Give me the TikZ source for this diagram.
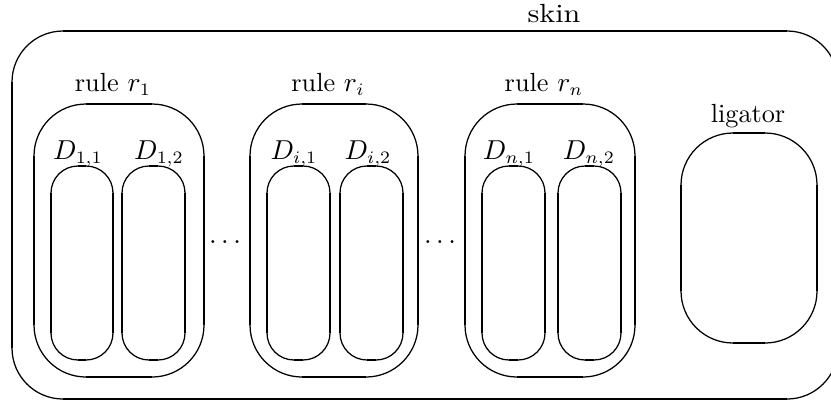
\documentclass[tikz,border=0pt]{standalone}
\usepackage{tikz}
\tikzset{
  arcline/.style={line width=0.5pt},
  segline/.style={line width=0.85pt},
  lbl/.style={inner sep=0pt, anchor=base, font=\fontsize{10.5}{12}\selectfont},
}
\newcommand\membrane[5]{%
  \draw[arcline, rounded corners={0.4pt*#5}] (#1,#2) rectangle (#3,#4);
  \draw[segline] ({#1+#5},#2) -- ({#3-#5},#2);
  \draw[segline] ({#1+#5},#4) -- ({#3-#5},#4);
  \draw[segline] (#1,{#2+#5}) -- (#1,{#4-#5});
  \draw[segline] (#3,{#2+#5}) -- (#3,{#4-#5});
}
\begin{document}
\begin{tikzpicture}[x=0.4pt,y=-0.4pt]
  \clip (0,0) rectangle (831,402);
  % skin
  \membrane{12}{31}{838}{399}{51}
  % rule r1
  \membrane{34}{104}{204}{377}{52}
  \membrane{51}{166}{113}{360}{27}
  \membrane{122}{166}{185}{360}{27}
  % rule ri
  \membrane{250}{104}{418}{377}{52}
  \membrane{267}{166}{330}{360}{27}
  \membrane{340}{166}{403}{360}{27}
  % rule rn
  \membrane{465}{104}{635}{377}{52}
  \membrane{482}{166}{545}{360}{27}
  \membrane{558}{166}{621}{360}{27}
  % ligator
  \membrane{681}{133}{817}{343}{52}
  % labels
  \node[lbl] (skin) at (554,22) {\scalebox{1.15}[1]{skin}};
  \node[lbl] (lr1) at (113,91) {rule $r_1$};
  \node[lbl] (lri) at (328,91) {rule $r_i$};
  \node[lbl] (lrn) at (544,91) {rule $r_n$};
  \node[lbl] (llig) at (748,122) {ligator};
  \node[lbl] (d11) at (78,159) {$D_{1,1}$};
  \node[lbl] (d12) at (159,159) {$D_{1,2}$};
  \node[lbl] (di1) at (294,159) {$D_{i,1}$};
  \node[lbl] (di2) at (368,159) {$D_{i,2}$};
  \node[lbl] (dn1) at (509,159) {$D_{n,1}$};
  \node[lbl] (dn2) at (589,159) {$D_{n,2}$};
  \node[lbl] (dots1) at (225,243) {$\ldots$};
  \node[lbl] (dots2) at (440,243) {$\ldots$};
\end{tikzpicture}
\end{document}
